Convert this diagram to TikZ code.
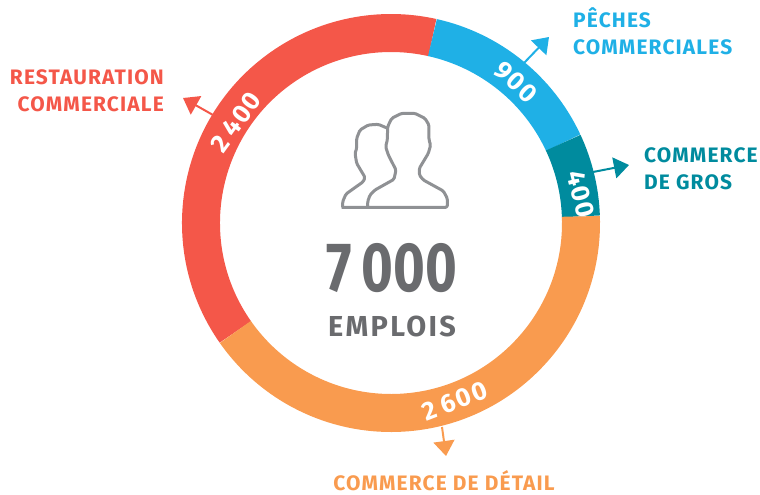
\documentclass[tikz,border=0pt]{standalone}
\usepackage{fontspec}
\setmainfont{Fira Sans}
\newfontface\labface[LetterSpace=5.5]{Fira Sans Bold}
\newfontface\valface[LetterSpace=5]{Fira Sans Bold}
\newfontface\empface[LetterSpace=8]{Fira Sans Bold}
\usetikzlibrary{arrows.meta}
\definecolor{cred}{HTML}{F45749}
\definecolor{cblue}{HTML}{1FB0E6}
\definecolor{cteal}{HTML}{008B9E}
\definecolor{corange}{HTML}{F99B4F}
\definecolor{cgrey}{HTML}{6A6B6E}
\definecolor{cicon}{HTML}{8F9194}
\tikzset{
  x=1bp,y=-1bp,
  seg/.style={line width=38bp,line cap=butt,draw=#1},
  lab/.style={text=#1,font=\fontsize{21}{27}\selectfont\labface,inner sep=0pt},
  val/.style={text=white,font=\fontsize{26}{26}\selectfont\valface,inner sep=0pt,execute at begin node={\spaceskip=6bp\relax}},
  pointer/.style={draw=#1,fill=#1,line width=2bp,-{Triangle[length=15bp,width=21bp]},shorten <=0pt},
  iconline/.style={draw=cicon,line width=3bp,line join=round,rounded corners=1.5bp},
}
\begin{document}
\begin{tikzpicture}
\useasboundingbox (0,0) rectangle (760,495);
\coordinate (c) at (391,223);
\draw[seg=cred] (c) ++(215:190bp) arc[start angle=215,end angle=77.4,radius=190bp];
\draw[seg=cblue] (c) ++(77.4:190bp) arc[start angle=77.4,end angle=25,radius=190bp];
\draw[seg=cteal] (c) ++(25:190bp) arc[start angle=25,end angle=2,radius=190bp];
\draw[seg=corange] (c) ++(2:190bp) arc[start angle=2,end angle=-145,radius=190bp];

% values
\node[val,rotate=54] (v2400) at (236,122) {2 400};
\node[val,rotate=-43] (v900) at (516,82) {900};
\node[val,rotate=-76] (v400) at (581,194) {400};
\node[val,rotate=21] (v2600) at (455,401) {2 600};

% labels
\node[lab=cblue,align=left,anchor=west] (lp) at (573,31.5) {PÊCHES\\COMMERCIALES};
\node[lab=cteal,align=left,anchor=west] (lg) at (644,169) {COMMERCE\\DE GROS};
\node[lab=cred,align=right,anchor=east] (lr) at (164,90.5) {RESTAURATION\\COMMERCIALE};
\node[lab=corange,anchor=center] (ld) at (444,481) {COMMERCE DE DÉTAIL};

% arrows
\coordinate (ap) at (524,63); \coordinate (bp) at (549,37);
\coordinate (ag) at (593,172); \coordinate (bg) at (629,165);
\coordinate (ad) at (442,427); \coordinate (bd) at (446,456);
\coordinate (ar) at (213,115); \coordinate (br) at (183,98);
\draw[pointer=cblue] (ap) -- (bp);
\draw[pointer=cteal] (ag) -- (bg);
\draw[pointer=corange] (ad) -- (bd);
\draw[pointer=cred] (ar) -- (br);

% icon
\begin{scope}[shift={(320,90)},x=0.3333bp,y=-0.3333bp]
\draw[iconline] (65,352) -- (382,352) -- (382,325) -- (370,303) -- (310,270) -- (298,255) -- (298,235) -- (325,190) -- (332,165) -- (327,150) -- (327,105) -- (315,85) -- (285,70) -- (245,70) -- (215,85) -- (203,110) -- (202,150) -- (197,170) -- (205,195) -- (228,240) -- (222,268) -- (165,300) -- (150,315) -- (143,335) -- (143,352);
\draw[iconline] (68,352) -- (68,335) -- (78,312) -- (130,275) -- (135,262) -- (110,220) -- (105,190) -- (110,175) -- (110,145) -- (120,120) -- (145,105) -- (175,103) -- (203,115);
\end{scope}

% centre
\node[text=cgrey,inner sep=0pt,xscale=0.78,font=\fontsize{70}{70}\selectfont\bfseries,execute at begin node={\spaceskip=12bp\relax}] (tot) at (392,268) {7 000};
\node[text=cgrey,inner sep=0pt,font=\fontsize{29}{29}\selectfont\empface] (emp) at (392,326) {EMPLOIS};
\end{tikzpicture}
\end{document}
